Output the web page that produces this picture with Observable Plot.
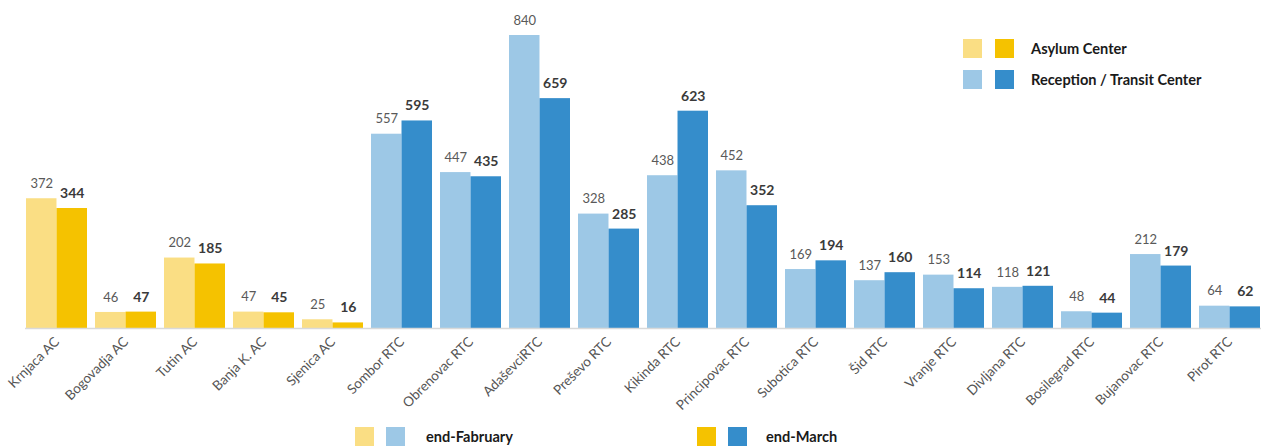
<!DOCTYPE html>
<html>
<head>
<meta charset="utf-8">
<script src="https://cdn.jsdelivr.net/npm/d3@7"></script>
<script src="https://cdn.jsdelivr.net/npm/@observablehq/plot@0.6"></script>
<style>
  body { margin: 0; background: #fff; font-family: Lato, "Open Sans", sans-serif; }
  #wrap { position: relative; width: 1261px; height: 446px; overflow: hidden; }
  .sw { position: absolute; width: 19px; height: 19px; }
  .lt { position: absolute; font-weight: bold; font-size: 14.6px; color: #1a1a1a; line-height: 19px; white-space: nowrap; }
</style>
</head>
<body>
<div id="wrap"></div>
<script>
const facilities = ["Krnjaca AC","Bogovadja AC","Tutin AC","Banja K. AC","Sjenica AC","Sombor RTC","Obrenovac RTC","AdaševciRTC","Preševo RTC","Kikinda RTC","Principovac RTC","Subotica RTC","Šid RTC","Vranje RTC","Divljana RTC","Bosilegrad RTC","Bujanovac RTC","Pirot RTC"];
const types = ["AC","AC","AC","AC","AC","RTC","RTC","RTC","RTC","RTC","RTC","RTC","RTC","RTC","RTC","RTC","RTC","RTC"];
const endFebruary = [372,46,202,47,25,557,447,840,328,438,452,169,137,153,118,48,212,64];
const endMarch = [344,47,185,45,16,595,435,659,285,623,352,194,160,114,121,44,179,62];

const colors = {"AC-Feb":"#FADE84","AC-Mar":"#F5C200","RTC-Feb":"#9DC8E6","RTC-Mar":"#358DCB"};

const data = [];
facilities.forEach((f, i) => {
  data.push({facility: f, period: "Feb", value: endFebruary[i], key: types[i] + "-Feb"});
  data.push({facility: f, period: "Mar", value: endMarch[i], key: types[i] + "-Mar"});
});
const feb = data.filter(d => d.period === "Feb");
const mar = data.filter(d => d.period === "Mar");

const W = 1261, mL = 25, mR = 0, padIn = 0.117;
const bw = d3.scaleBand().domain(facilities).range([mL, W - mR]).paddingInner(padIn).paddingOuter(0).bandwidth();
const half = bw / 2;

const chart = Plot.plot({
  width: W,
  height: 424,
  marginLeft: mL,
  marginRight: mR,
  marginTop: 35,
  marginBottom: 96,
  style: {fontFamily: "Lato, 'Open Sans', sans-serif", fontSize: "13.5px", color: "#555", background: "#fff"},
  x: {domain: facilities, paddingInner: padIn, paddingOuter: 0, tickRotate: -45, tickSize: 0, tickPadding: 11, label: null},
  y: {domain: [0, 840], axis: null},
  color: {domain: Object.keys(colors), range: Object.values(colors)},
  marks: [
    Plot.barY(feb, {x: "facility", y: "value", fill: "key", insetLeft: 0, insetRight: half}),
    Plot.barY(mar, {x: "facility", y: "value", fill: "key", insetLeft: half, insetRight: 0}),
    Plot.ruleY([0], {stroke: "#d9d9d9", strokeWidth: 1.5}),
    Plot.text(feb, {x: "facility", y: "value", text: d => String(d.value), dx: -half / 2, dy: -15, fill: "#595959", fontSize: 13}),
    Plot.text(mar, {x: "facility", y: "value", text: d => String(d.value), dx: half / 2, dy: -15, fill: "#3a3a3a", fontSize: 14, fontWeight: "bold"})
  ]
});
const wrap = document.getElementById("wrap");
wrap.appendChild(chart);

function sw(x, y, c) { const d = document.createElement("div"); d.className = "sw"; d.style.left = x + "px"; d.style.top = y + "px"; d.style.background = c; wrap.appendChild(d); }
function lt(x, y, t) { const d = document.createElement("div"); d.className = "lt"; d.style.left = x + "px"; d.style.top = y + "px"; d.textContent = t; wrap.appendChild(d); }
sw(963, 39, colors["AC-Feb"]); sw(995, 39, colors["AC-Mar"]); lt(1031, 39, "Asylum Center");
sw(963, 70, colors["RTC-Feb"]); sw(995, 70, colors["RTC-Mar"]); lt(1031, 70, "Reception / Transit Center");
sw(355, 427, colors["AC-Feb"]); sw(386, 427, colors["RTC-Feb"]); lt(426, 427, "end-Fabruary");
sw(697, 427, colors["AC-Mar"]); sw(728, 427, colors["RTC-Mar"]); lt(766, 427, "end-March");
</script>
</body>
</html>
